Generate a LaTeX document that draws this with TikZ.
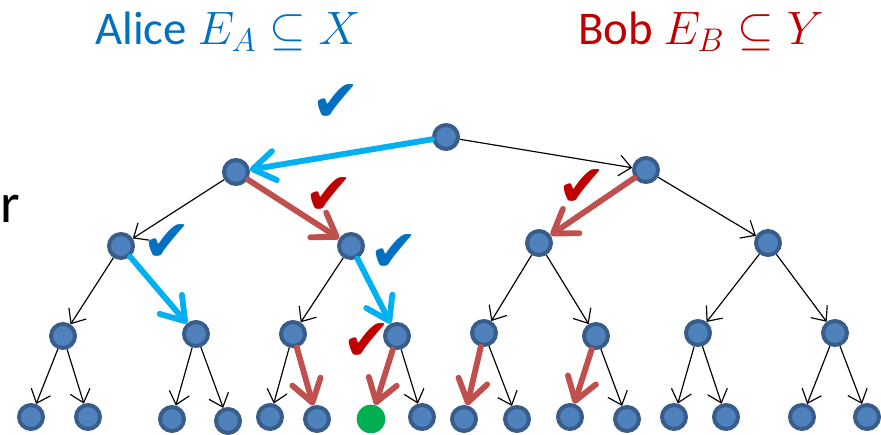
\RequirePackage{fix-cm}
\documentclass[tikz,border=0pt]{standalone}
\usepackage{fontspec}
\setmainfont{Carlito}
\newfontfamily\checkfont{DejaVu Sans}
\usetikzlibrary{arrows.meta}
\definecolor{nodefill}{RGB}{79, 129, 189}
\definecolor{nodeborder}{RGB}{56, 93, 138}
\definecolor{alicetext}{RGB}{0, 112, 192}
\definecolor{bobtext}{RGB}{192, 0, 0}
\definecolor{alicearrow}{RGB}{0, 176, 240}
\definecolor{bobarrow}{RGB}{192, 80, 77}
\definecolor{leafgreen}{RGB}{0, 176, 80}

\begin{document}
\begin{tikzpicture}[x=0.03cm, y=-0.03cm,
  vertex/.style={circle,draw=nodeborder,fill=nodefill,line width=3.4pt,minimum size=0.72cm,inner sep=0pt},
  edge/.style={-{Straight Barb[length=0.36cm,width=0.62cm]},line width=1pt},
  move/.style={-{Straight Barb[length=0.66cm,width=0.88cm,round]},line width=5pt,line cap=round},
  tick/.style={inner sep=0pt,font=\checkfont\fontsize{50}{60}\selectfont},
  title/.style={anchor=base west,inner sep=0pt,font=\fontsize{40}{48}\selectfont}]
\useasboundingbox (0,0) rectangle (881,434);

% Labels
\node[title,text=alicetext] at (95,44) (alice) {Alice $E_A \subseteq X$};
\node[title,text=bobtext] at (578,44) (bob) {Bob $E_B \subseteq Y$};
\node[title,font=\fontsize{48}{56}\selectfont] at (0,222) (side) {r};

% Tree nodes
\foreach \n/\x/\y in {t/446/137, t0/236/172, t1/646/170,
    t00/121/246, t01/351/246, t10/539/243, t11/768/243,
    t000/63/336, t001/196/334, t010/293/334, t011/397/336,
    t100/484/333, t101/596/336, t110/698/333, t111/835/333,
    t0000/31/417, t0001/88/417, t0010/172/419, t0011/228/421,
    t0100/270/417, t0101/317/419, t0111/422/417,
    t1000/464/419, t1001/517/419, t1010/570/417, t1011/627/419,
    t1100/674/417, t1101/726/417, t1110/802/417, t1111/867/417}
  \node[vertex] at (\x,\y) (\n) {};
\node[circle,fill=leafgreen,minimum size=0.86cm,inner sep=0pt] at (371,419) (t0110) {};

% Plain edges
\foreach \a/\b in {t/t1, t0/t00, t1/t11, t00/t000, t01/t010, t10/t100, t10/t101,
    t11/t110, t11/t111, t000/t0000, t000/t0001, t001/t0010, t001/t0011,
    t010/t0100, t011/t0111, t100/t1001, t101/t1011, t110/t1100, t110/t1101,
    t111/t1110, t111/t1111}
  \draw[edge] (\a) -- (\b);

% Alice's moves
\foreach \a/\b in {t/t0, t00/t001, t01/t011}
  \draw[move,alicearrow] (\a) -- (\b);

% Bob's moves
\foreach \a/\b in {t0/t01, t010/t0101, t011/t0110, t1/t10, t100/t1000, t101/t1010}
  \draw[move,bobarrow] (\a) -- (\b);

% Checks
\node[tick,text=alicetext] at (336,103) (c1) {✔};
\node[tick,text=alicetext] at (167,243) (c2) {✔};
\node[tick,text=alicetext] at (394,253) (c3) {✔};
\node[tick,text=bobtext] at (329,196) (c4) {✔};
\node[tick,text=bobtext] at (582,188) (c5) {✔};
\node[tick,text=bobtext] at (367,342) (c6) {✔};
\end{tikzpicture}
\end{document}
